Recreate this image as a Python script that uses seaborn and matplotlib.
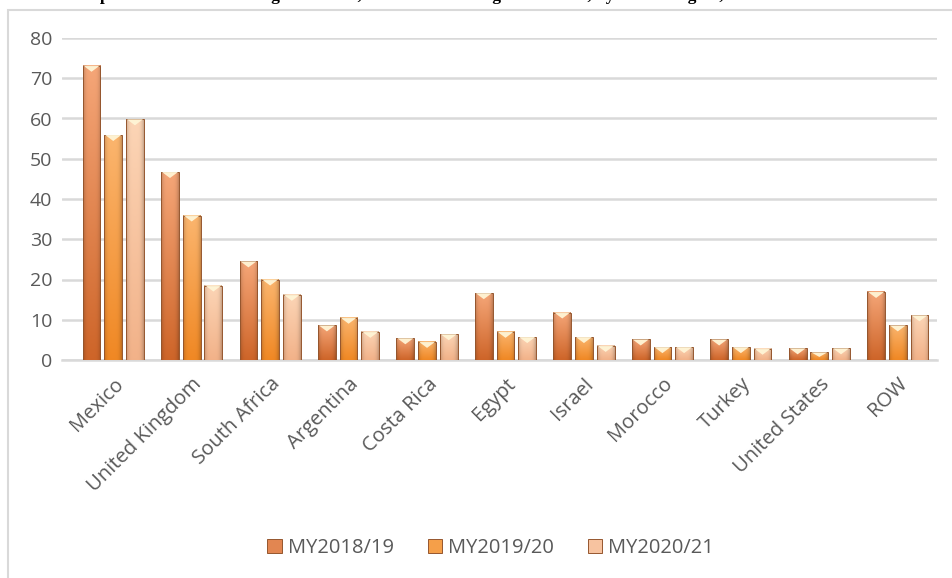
import numpy as np
import pandas as pd
import matplotlib
matplotlib.use("Agg")
import matplotlib.pyplot as plt
from matplotlib.patches import Polygon, Patch, Rectangle
from matplotlib.colors import to_rgb
import seaborn as sns

# --- data (1,000 MT) ---
countries = ["Mexico", "United Kingdom", "South Africa", "Argentina", "Costa Rica",
             "Egypt", "Israel", "Morocco", "Turkey", "United States", "ROW"]
years = ["MY2018/19", "MY2019/20", "MY2020/21"]
my2018_19 = [73.1, 46.7, 24.5, 8.6, 5.4, 16.6, 11.8, 5.1, 5.1, 2.9, 16.9]
my2019_20 = [55.9, 35.9, 20.0, 10.5, 4.5, 7.0, 5.7, 3.2, 3.2, 1.9, 8.6]
my2020_21 = [59.8, 18.5, 16.2, 7.0, 6.4, 5.7, 3.5, 3.2, 2.8, 2.9, 11.1]
yticks = [0, 10, 20, 30, 40, 50, 60, 70, 80]

df = pd.DataFrame({
    "country": countries * 3,
    "year": [years[0]] * len(countries) + [years[1]] * len(countries) + [years[2]] * len(countries),
    "value": my2018_19 + my2019_20 + my2020_21,
})

# bevel-style colours: (top, bottom) per season
shades = {
    "MY2018/19": ("#F5A678", "#CE6529"),
    "MY2019/20": ("#FBB56E", "#F08824"),
    "MY2020/21": ("#FCD5B6", "#F2B289"),
}
mid = {k: tuple((np.array(to_rgb(a)) + np.array(to_rgb(b))) / 2) for k, (a, b) in shades.items()}

sns.set_theme(style="white")
plt.rcParams["font.family"] = ["Open Sans", "DejaVu Sans"]
txt = "#595959"

fig = plt.figure(figsize=(9.53, 5.78), dpi=100)
ax = fig.add_axes([62 / 953, 1 - 360 / 578, 875 / 953, 322 / 578])

sns.barplot(data=df, x="country", y="value", hue="year", hue_order=years,
            palette=mid, width=0.83, gap=0.18, ax=ax, legend=False,
            edgecolor="#95562E", linewidth=0.7, saturation=1, zorder=3)

n_cat = len(countries)
slot_px = (875 - 12) / n_cat
x_left = -0.5 - 12 / slot_px


def fix_limits():
    ax.set_xlim(x_left, n_cat - 0.5)
    ax.set_ylim(0, 80)


fix_limits()
ax.set_yticks(yticks)
ax.yaxis.grid(True, color="#D9D9D9", linewidth=1.8, zorder=0)
ax.set_axisbelow(True)
for s in ["left", "right", "top"]:
    ax.spines[s].set_visible(False)
ax.spines["bottom"].set_color("#D9D9D9")
ax.spines["bottom"].set_linewidth(1.8)
ax.set_xlabel("")
ax.set_ylabel("")
ax.tick_params(axis="y", length=0, pad=7, labelsize=14, labelcolor=txt)
ax.tick_params(axis="x", length=0, pad=10, labelsize=14.5, labelcolor=txt)
plt.setp(ax.get_xticklabels(), rotation=45, ha="right", rotation_mode="anchor")

# gradient fill and top bevel on each bar
px_per_unit = 322 / 80.0
tri_h = 6.0 / px_per_unit
for cont, yr in zip(ax.containers, years):
    top, bot = (np.array(to_rgb(c)) for c in shades[yr])
    for bar in cont:
        x, w, h = bar.get_x(), bar.get_width(), bar.get_height()
        n, m = 64, 24
        t = np.linspace(0, 1, n)[:, None, None]
        u = np.linspace(0, 1, m)[None, :, None]
        col = top * (1 - t) + bot * t
        edge = 1 - 0.2 * (np.abs(u - 0.5) * 2) ** 4
        img = np.clip(col * edge, 0, 1)
        ax.imshow(img, extent=[x, x + w, 0, h], aspect="auto", origin="upper",
                  zorder=3.5, interpolation="bilinear")
        bar.set_facecolor("none")
        bar.set_zorder(4)
        th = min(tri_h, h * 0.6)
        ax.add_patch(Polygon([(x + w * 0.05, h), (x + w * 0.95, h), (x + w / 2, h - th)],
                             closed=True, facecolor="#FFF5D6", edgecolor="none",
                             alpha=0.95, zorder=4.5))
fix_limits()

# legend
handles = [Patch(facecolor=mid[y], edgecolor="#95562E", linewidth=0.7, label=y) for y in years]
fig.legend(handles=handles, loc="center", bbox_to_anchor=(0.515, 1 - 548 / 578), ncol=3,
           frameon=False, fontsize=14.5, handlelength=0.7, handleheight=0.7,
           handletextpad=0.3, columnspacing=1.7, labelcolor=txt)

# chart frame
fig.patches.append(Rectangle((8 / 953, -0.1), 1.2, 1 - 10 / 578 + 0.1, transform=fig.transFigure,
                             fill=False, edgecolor="#D9D9D9", linewidth=1.5, zorder=0))

# title, set above the chart frame
fig.text(50 / 953, 1 + 0.5 / 578,
         "EU Imports of Citrus: Leading Countries, 1000 MT Ranking and Shares, by Trade Region, 2018-2021",
         family=["Liberation Serif", "DejaVu Serif"], fontweight="bold", fontsize=12.5,
         ha="left", va="baseline", color="black")

fig.savefig("out.png", dpi=100)
